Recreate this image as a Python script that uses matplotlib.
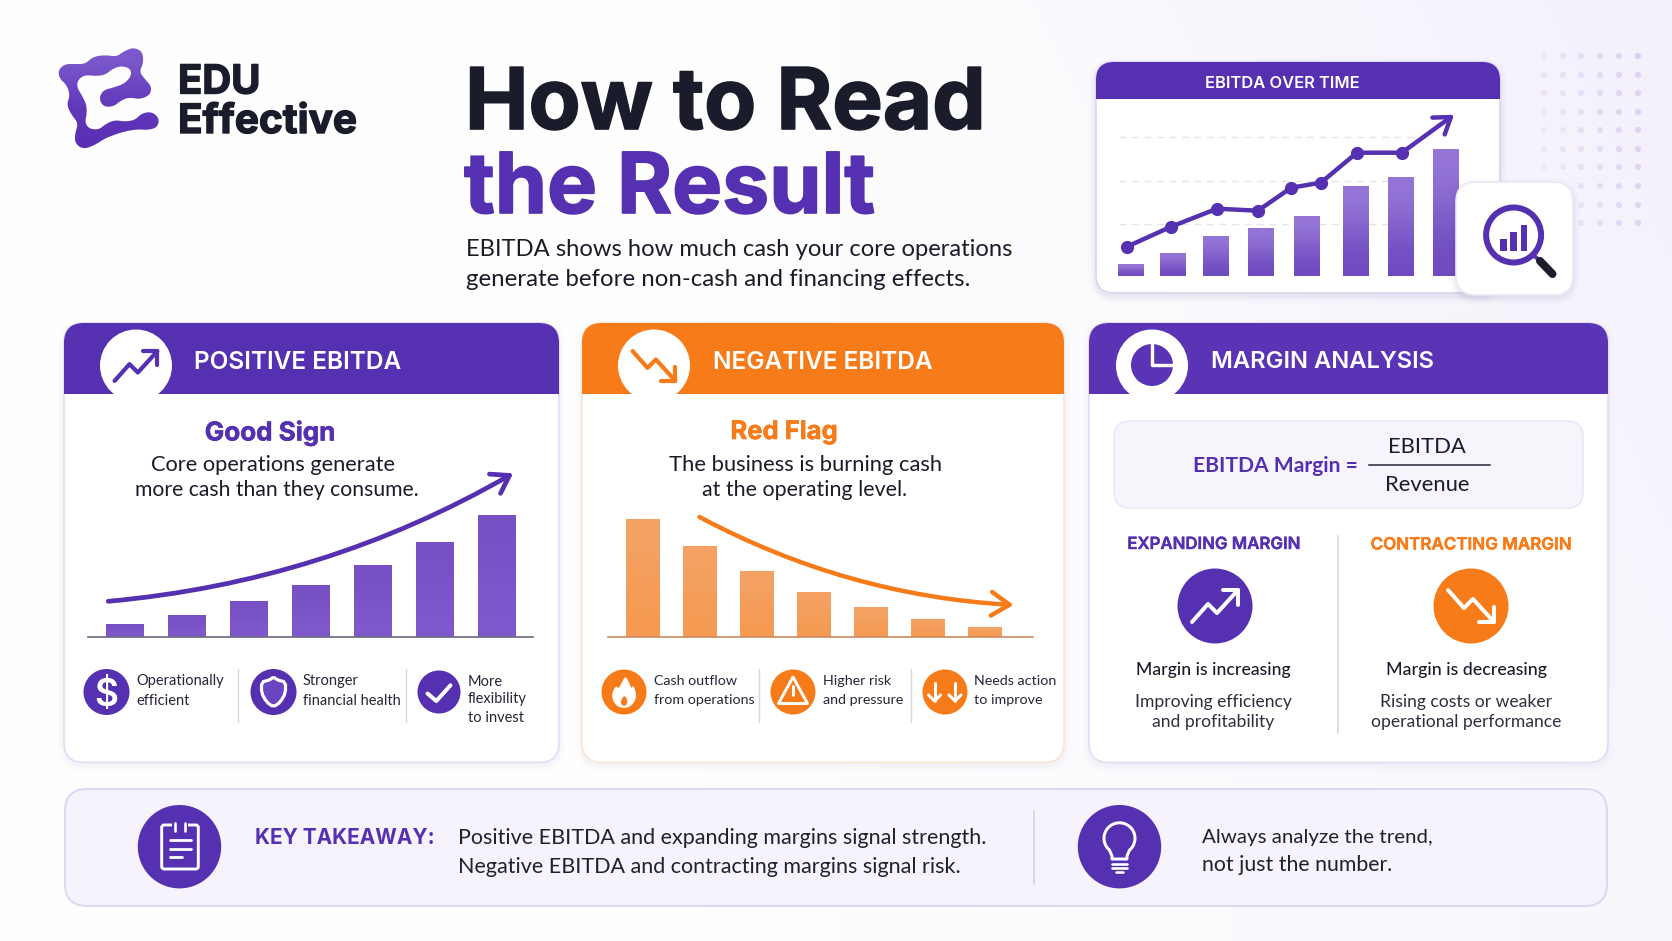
"""Infographic: how to read the EBITDA result."""
import matplotlib

matplotlib.use("Agg")
import matplotlib.patheffects as pe
import matplotlib.pyplot as plt
import numpy as np
from matplotlib.colors import to_rgb
from matplotlib.patches import Circle, FancyArrowPatch, FancyBboxPatch, Polygon, Rectangle

W, H = 1672, 941
PURPLE = "#5530B0"
PURPLE2 = "#5A34B4"
ORANGE = "#F77B18"
INK = "#1B1C2B"
TITLE_FONT = "Inter"
BODY_FONT = "Lato"

# EBITDA over time panel
time_periods = [0, 0.93, 1.89, 2.89, 3.91, 4.98, 5.98, 7]
time_bars = [12, 23, 40, 48, 60, 90, 99, 127]
time_grid = [52, 95, 139]
time_trend_x = [-0.09, 0.89, 1.91, 2.82, 3.56, 4.22, 5.02, 6.02]
time_trend_y = [29, 49, 67, 65, 88, 93, 123, 123]
time_arrow_end = (7.18, 161)

# Positive EBITDA panel
positive_bars = [13, 22, 36, 52, 72, 95, 121]
positive_arrow = [(-0.27, 36), (6.26, 164)]
positive_items = ["Operationally\nefficient", "Stronger\nfinancial health", "More\nflexibility\nto invest"]

# Negative EBITDA panel
negative_bars = [118, 91, 66, 45, 30, 18, 10]
negative_arrow = [(1.0, 120), (6.51, 32)]
negative_items = ["Cash outflow\nfrom operations", "Higher risk\nand pressure", "Needs action\nto improve"]

takeaway_lines = [
    "Positive EBITDA and expanding margins signal strength.",
    "Negative EBITDA and contracting margins signal risk.",
]
always_lines = ["Always analyze the trend,", "not just the number."]

# outline of the logo at 3x
logo_outline = [
    (250, 22), (278, 35), (280, 70), (268, 95), (285, 118), (305, 140), (300, 165), (270, 178), (240, 172),
    (215, 180), (190, 200), (160, 200), (147, 175), (160, 150), (190, 143), (225, 130), (245, 105), (240, 85),
    (215, 78), (190, 85), (165, 105), (135, 108), (105, 105), (85, 118), (80, 140), (95, 165), (110, 195),
    (110, 225), (105, 245), (115, 265), (145, 270), (170, 250), (195, 240), (225, 245), (255, 240), (275, 220),
    (305, 215), (328, 235), (322, 262), (295, 270), (265, 268), (235, 272), (205, 280), (165, 295), (135, 315),
    (100, 328), (75, 310), (75, 280), (85, 250), (65, 225), (50, 195), (60, 165), (50, 135), (28, 115),
    (25, 90), (45, 72), (75, 72), (105, 72), (130, 50), (165, 45), (200, 50), (220, 35),
]

fig = plt.figure(figsize=(W / 100, H / 100), dpi=100)


def layer(zorder):
    a = fig.add_axes([0, 0, 1, 1], zorder=zorder)
    a.set_xlim(0, W)
    a.set_ylim(H, 0)
    a.axis("off")
    a.patch.set_alpha(0)
    return a


ax = layer(0)
top = layer(5)


def txt(a, x, y, s, px, color=INK, weight="normal", font=BODY_FONT, ha="left", heavy=0, **kw):
    t = a.text(x, y, s, fontsize=px * 0.72, color=color, weight=weight, family=font,
               ha=ha, va="center_baseline", **kw)
    if heavy:
        t.set_path_effects([pe.withStroke(linewidth=heavy, foreground=color)])
    return t


def rbox(a, x0, y0, x1, y1, r, fc, ec="none", lw=1.2, z=2):
    p = FancyBboxPatch((x0, y0), x1 - x0, y1 - y0, boxstyle=f"round,pad=0,rounding_size={r}",
                       fc=fc, ec=ec, lw=lw, zorder=z)
    a.add_patch(p)
    return p


def shadow(a, x0, y0, x1, y1, r, strength=1.0, z=1):
    for grow, alpha in [(7, 0.012), (5, 0.016), (3, 0.022), (1.5, 0.03)]:
        rbox(a, x0 - grow, y0 - grow + 3, x1 + grow, y1 + grow + 3, r + grow, (0.25, 0.2, 0.5, alpha * strength), z=z)


def smooth(pts, rounds=3, closed=False):
    pts = np.asarray(pts, float)
    for _ in range(rounds):
        if closed:
            nxt = np.roll(pts, -1, axis=0)
            pts = np.column_stack([0.75 * pts + 0.25 * nxt, 0.25 * pts + 0.75 * nxt]).reshape(-1, 2)
        else:
            q = 0.75 * pts[:-1] + 0.25 * pts[1:]
            r = 0.25 * pts[:-1] + 0.75 * pts[1:]
            pts = np.vstack([pts[0], np.column_stack([q, r]).reshape(-1, 2), pts[-1]])
    return pts


def stroke(a, pts, color, lw, z=6):
    pts = np.asarray(pts, float)
    a.plot(pts[:, 0], pts[:, 1], color=color, lw=lw * 0.72, solid_capstyle="round",
           solid_joinstyle="round", zorder=z)


def zigzag(a, cx, cy, color, lw, scale=1.0, down=False, z=6):
    s = 1 if down else -1
    pts = np.array([(-23, -16 * s), (-7, 2 * s), (2, -7 * s), (23, 16 * s)], float) * scale
    stroke(a, pts + (cx, cy), color, lw, z)
    head = np.array([(8, 16 * s), (23, 16 * s), (23, 1 * s)], float) * scale
    stroke(a, head + (cx, cy), color, lw, z)


def inset(x0, y0, x1, y1, c0, step):
    a = fig.add_axes([x0 / W, 1 - y1 / H, (x1 - x0) / W, (y1 - y0) / H], zorder=2)
    a.set_xlim((x0 - c0) / step, (x1 - c0) / step)
    a.set_ylim(0, y1 - y0)
    a.axis("off")
    a.patch.set_alpha(0)
    return a


def grad_bars(a, xs, values, width, top_color, bottom_color):
    lims = a.get_xlim(), a.get_ylim()
    a.bar(xs, values, width=width, color=top_color, zorder=2)
    for x, v in zip(xs, values):
        img = np.array([[to_rgb(top_color)], [to_rgb(bottom_color)]])
        a.imshow(img, extent=(x - width / 2, x + width / 2, 0, v), aspect="auto",
                 interpolation="bicubic", zorder=3)
    a.set_xlim(lims[0])
    a.set_ylim(lims[1])
    a.set_aspect("auto")


# page background with a pale wedge in the upper right
yy, xx = np.mgrid[0:H:4, 0:W:4]
t = np.clip((xx - 700) / 972, 0, 1) * 0.55 + np.clip((xx + (H - yy) * 0.9 - 1700) / 700, 0, 1) * 0.45
base = np.array(to_rgb("#FEFEFE"))
lav = np.array(to_rgb("#F4F1FC"))
bg = base[None, None, :] * (1 - t[..., None]) + lav[None, None, :] * t[..., None]
ax.imshow(bg, extent=(0, W, H, 0), aspect="auto", zorder=0)

# dots behind the small chart
for i, y in enumerate([56, 75, 93, 112, 130, 149, 167, 186, 205, 223]):
    for j, x in enumerate([1544, 1563, 1581, 1600, 1619, 1638]):
        fade = 0.35 + 0.11 * j - 0.015 * i
        ax.add_patch(Circle((x, y), 3.1, fc="#D9CFF2", alpha=max(fade, 0.12), ec="none", zorder=1))

# logo, filled with a vertical gradient
logo_poly = Polygon(smooth(logo_outline, 2, True) / 3 + (50, 40), closed=True, fc="none", ec="none",
                    transform=ax.transData)
ax.add_patch(logo_poly)
logo_img = ax.imshow(np.array([[to_rgb("#7D5BCC")], [to_rgb("#6238BC")], [to_rgb("#5A2FB4")]]), extent=(50, 165, 155, 45),
                     aspect="auto", interpolation="bicubic", zorder=3)
logo_img.set_clip_path(logo_poly)
ax.set_xlim(0, W)
ax.set_ylim(H, 0)
txt(ax, 178, 79, "EDU", 40, weight="bold", font=TITLE_FONT, heavy=1.0)
txt(ax, 178, 118, "Effective", 40.5, weight="bold", font=TITLE_FONT, heavy=1.0)

# title
txt(ax, 465, 98, "How to Read", 85, weight="bold", font=TITLE_FONT, heavy=1.2)
txt(ax, 464, 182, "the Result", 84, color=PURPLE, weight="bold", font=TITLE_FONT, heavy=1.2)
txt(ax, 466, 247, "EBITDA shows how much cash your core operations", 23.75)
txt(ax, 466, 277, "generate before non-cash and financing effects.", 24)

# small chart card
shadow(ax, 1096, 62, 1500, 293, 18)
rbox(ax, 1096, 62, 1500, 293, 18, "white", "#DAD3F1")
clip = Rectangle((1090, 55), 420, 44, transform=ax.transData)
rbox(ax, 1096, 62, 1500, 293, 18, PURPLE).set_clip_path(clip)
txt(ax, 1282, 81.5, "EBITDA OVER TIME", 16.5, color="white", weight="semibold", font=TITLE_FONT, ha="center")

c_time = inset(1100, 100, 1500, 275.7, 1131, 45)
c_time.hlines(time_grid, -0.27, 6.4, color="#E6E3EF", lw=1, linestyles=(0, (5, 4)), zorder=1)
grad_bars(c_time, time_periods, time_bars, 0.56, "#9677D8", "#6E4ABF")
c_time.plot(time_trend_x, time_trend_y, color=PURPLE, lw=3.2, marker="o", ms=8.5, zorder=5, clip_on=False)
c_time.add_patch(FancyArrowPatch((time_trend_x[-1], time_trend_y[-1]), time_arrow_end,
                                 arrowstyle="->,head_length=1.1,head_width=0.75", mutation_scale=10, lw=3.2,
                                 color=PURPLE, shrinkA=0, shrinkB=0, zorder=5, clip_on=False))

# magnifier card on top of the last bar
shadow(top, 1456, 182, 1573, 295, 20)
rbox(top, 1456, 182, 1573, 295, 20, "white", "#ECE9F6")
top.add_patch(Circle((1513.6, 235), 27.5, fc="none", ec=PURPLE, lw=6 * 0.72, zorder=6))
for x0, y0 in [(1500, 239), (1510, 232), (1520.5, 224.5)]:
    top.add_patch(Rectangle((x0, y0), 6.5, 250.5 - y0, fc=PURPLE, ec="none", zorder=6))
stroke(top, [(1533, 255), (1538, 259)], PURPLE, 4)
stroke(top, [(1540, 261), (1552.5, 274)], "#1E1B2C", 8)


def card(x0, x1, color, title, tx, cx, edge, px):
    shadow(ax, x0, 323, x1, 762.5, 20, strength=0.45)
    rbox(ax, x0, 323, x1, 762.5, 20, "white", edge)
    clip = Rectangle((x0 - 3, 320), x1 - x0 + 6, 74, transform=ax.transData)
    rbox(ax, x0, 323, x1, 762.5, 20, color).set_clip_path(clip)
    ax.add_patch(Circle((cx, 365.5), 36, fc="white", ec="none", zorder=3))
    txt(ax, tx, 360, title, px, color="white", weight="semibold", font=TITLE_FONT)


card(64, 559, PURPLE, "POSITIVE EBITDA", 194, 136, "#E2DCF5", 24.4)
card(582, 1064, ORANGE, "NEGATIVE EBITDA", 713, 654, "#FBE4D2", 24.4)
card(1089, 1608, PURPLE2, "MARGIN ANALYSIS", 1211, 1152, "#E2DCF5", 23.7)

zigzag(ax, 136, 366, PURPLE, 4.2, 0.93)
zigzag(ax, 654, 366, ORANGE, 4.2, 0.93, down=True)

# pie icon
ax.add_patch(Circle((1152, 365), 21, fc=PURPLE2, ec="none", zorder=4))
stroke(ax, [(1152, 340), (1152, 365), (1177, 365)], "white", 3.4, z=5)

# positive panel
txt(ax, 270, 430, "Good Sign", 26, color=PURPLE, weight="bold", font=TITLE_FONT, ha="center", heavy=0.4)
txt(ax, 273, 463, "Core operations generate", 21.9, ha="center")
txt(ax, 277, 488, "more cash than they consume.", 21.2, ha="center")
c_pos = inset(88, 470, 533, 637.3, 125, 62)
c_pos.axhline(0, color="#6B6680", lw=1.2, zorder=4, clip_on=False)
grad_bars(c_pos, np.arange(len(positive_bars)), positive_bars, 0.6, "#7650C4", "#8059CC")
c_pos.add_patch(FancyArrowPatch(positive_arrow[0], positive_arrow[1], connectionstyle="arc3,rad=0.11",
                                arrowstyle="->,head_length=1.2,head_width=0.8", mutation_scale=10, lw=3.4,
                                color=PURPLE, shrinkA=0, shrinkB=0, capstyle="round", zorder=6, clip_on=False))

for cx, r, s, x in zip([106.5, 273.5, 439], [23, 23, 21.5], positive_items, [136.5, 303, 468]):
    ax.add_patch(Circle((cx, 692), r, fc=PURPLE, ec="none", zorder=3))
    step = 18 if s.count("\n") == 2 else 19.5
    for k, line in enumerate(s.split("\n")):
        txt(ax, x, 680 + k * step, line, 14.6, color="#26263A")
for x in (237.5, 405.5):
    ax.plot([x, x], [669, 722], color="#DAD6E8", lw=1, zorder=3)
txt(ax, 106.5, 692, "$", 37, color="white", weight="semibold", font=TITLE_FONT, ha="center", zorder=5)
shield = smooth([(0, -15), (4, -12), (12, -10), (12, 1), (7, 10), (0, 15), (-7, 10), (-12, 1), (-12, -10), (-4, -12)], 1, True)
ax.add_patch(Polygon(shield + (273.5, 692), closed=True, fc="#6A45C2", ec="white", lw=2.3, zorder=5))
stroke(ax, np.array([(-11.5, 1.5), (-2.7, 9), (11.5, -6.7)]) + (439, 692), "white", 4)

# negative panel
txt(ax, 784, 430, "Red Flag", 25.6, color=ORANGE, weight="bold", font=TITLE_FONT, ha="center", heavy=0.4)
txt(ax, 806, 463, "The business is burning cash", 22, ha="center")
txt(ax, 805, 488, "at the operating level.", 21.4, ha="center")
c_neg = inset(608, 500, 1033, 637, 642.5, 57)
c_neg.axhline(0, color="#C98A5C", lw=1.2, zorder=4, clip_on=False)
grad_bars(c_neg, np.arange(len(negative_bars)), negative_bars, 0.59, "#F5A264", "#F49A52")
c_neg.add_patch(FancyArrowPatch(negative_arrow[0], negative_arrow[1], connectionstyle="arc3,rad=0.11",
                                arrowstyle="->,head_length=1.3,head_width=0.85", mutation_scale=10, lw=3.2,
                                color=ORANGE, shrinkA=0, shrinkB=0, capstyle="round", zorder=6, clip_on=False))

for cx, s, x in zip([624, 793, 945], negative_items, [654, 823, 974]):
    ax.add_patch(Circle((cx, 692), 22.5, fc=ORANGE, ec="none", zorder=3))
    for k, line in enumerate(s.split("\n")):
        txt(ax, x, 680 + k * 19.5, line, 14.2, color="#26263A")
for x in (759, 911):
    ax.plot([x, x], [669, 722], color="#DAD6E8", lw=1, zorder=3)
flame = smooth([(1, -16), (5, -9), (7, -3), (9, -7), (12, 2), (11, 9), (6, 15), (0, 16.5), (-7, 15), (-12, 8), (-12, 0), (-8, -6), (-6, -3), (-3, -8)], 2, True)
ax.add_patch(Polygon(flame + (624.3, 691.7), closed=True, fc="white", ec="none", zorder=5))
drop = smooth([(0, 3), (3.5, 9), (2, 14), (-2, 14), (-4, 10)], 2, True)
ax.add_patch(Polygon(drop + (624.3, 691.7), closed=True, fc=ORANGE, ec="none", zorder=6))
ax.add_patch(Polygon([(793, 677), (807.5, 703.5), (778.5, 703.5)], closed=True, fc="none", ec="white", lw=2.1, joinstyle="round", zorder=5))
stroke(ax, [(793, 686), (793, 695)], "white", 3)
stroke(ax, [(793, 699.5), (793, 699.6)], "white", 3.4)
for x in (934.5, 955):
    stroke(ax, [(x, 683), (x, 701)], "white", 3)
    stroke(ax, [(x - 6, 695), (x, 701), (x + 6, 695)], "white", 3)

# margin panel
rbox(ax, 1114, 421, 1583, 508, 16, "#F7F5FC", "#EBE7F6")
txt(ax, 1193, 463.5, "EBITDA Margin =", 21, color=PURPLE, weight="bold")
ax.plot([1369, 1490], [464.5, 464.5], color="#25253A", lw=1.1, zorder=4)
txt(ax, 1427, 445, "EBITDA", 22, ha="center")
txt(ax, 1427, 483, "Revenue", 22, ha="center")
txt(ax, 1214, 543, "EXPANDING MARGIN", 16.8, color=PURPLE, weight="semibold", font=TITLE_FONT, ha="center", heavy=0.3)
txt(ax, 1471, 543, "CONTRACTING MARGIN", 17, color=ORANGE, weight="semibold", font=TITLE_FONT, ha="center", heavy=0.3)
ax.plot([1338, 1338], [536, 733], color="#DAD6E8", lw=1.1, zorder=3)
ax.add_patch(Circle((1215, 606), 37.5, fc=PURPLE, ec="none", zorder=3))
ax.add_patch(Circle((1471, 606), 37.5, fc=ORANGE, ec="none", zorder=3))
zigzag(ax, 1215, 606, "white", 4, 1.0)
zigzag(ax, 1471, 606, "white", 4, 1.0, down=True)
txt(ax, 1213, 669, "Margin is increasing", 17.6, weight="medium", ha="center")
txt(ax, 1467, 669, "Margin is decreasing", 17.7, weight="medium", ha="center")
txt(ax, 1213.5, 700.5, "Improving efficiency", 17.5, color="#2E2E40", ha="center")
txt(ax, 1213.5, 721, "and profitability", 17.5, color="#2E2E40", ha="center")
txt(ax, 1466, 700.5, "Rising costs or weaker", 17.5, color="#2E2E40", ha="center")
txt(ax, 1466, 721, "operational performance", 17.5, color="#2E2E40", ha="center")

# takeaway bar
rbox(ax, 65, 789, 1607, 906, 22, "#F6F3FC", "#DDD6F3", lw=1.4)
ax.add_patch(Circle((179.5, 846.7), 41.7, fc=PURPLE, ec="none", zorder=3))
ax.add_patch(Circle((1119.5, 846.7), 41.7, fc=PURPLE, ec="none", zorder=3))
rbox(ax, 161.7, 825, 198.3, 869, 2.5, "none", "white", lw=2.1, z=5)
ax.add_patch(Rectangle((172, 820), 16, 8, fc=PURPLE, ec="none", zorder=5))
for x in (175, 185):
    stroke(ax, [(x, 823), (x, 831)], "white", 2.6)
for x1, y in [(190.5, 840), (190.5, 849), (181.5, 857)]:
    stroke(ax, [(170, y), (x1, y)], "white", 2.8)
# bulb outline
theta = np.radians(np.linspace(130, 410, 60))
bulb = np.column_stack([1119.5 + 15.5 * np.cos(theta), 838.3 + 15.5 * np.sin(theta)])
stroke(ax, np.vstack([bulb, [(1127, 856), (1127, 859), (1112, 859), (1112, 856), bulb[0]]]), "white", 3)
for y, x0, x1 in [(863.5, 1112, 1127), (868, 1112, 1127), (872, 1116, 1123)]:
    stroke(ax, [(x0, y), (x1, y)], "white", 2.6)

txt(ax, 255, 836, "KEY TAKEAWAY:", 20.8, color=PURPLE, weight="bold", font=TITLE_FONT)
for y, s in zip((836.5, 865), takeaway_lines):
    txt(ax, 458, y, s, 21.5, color="#20202F")
ax.plot([1034, 1034], [811, 884], color="#D5CFE6", lw=1.1, zorder=3)
txt(ax, 1202, 835.5, always_lines[0], 20.5, color="#20202F")
txt(ax, 1202, 863, always_lines[1], 21.3, color="#20202F")

fig.savefig("out.png", dpi=100)
